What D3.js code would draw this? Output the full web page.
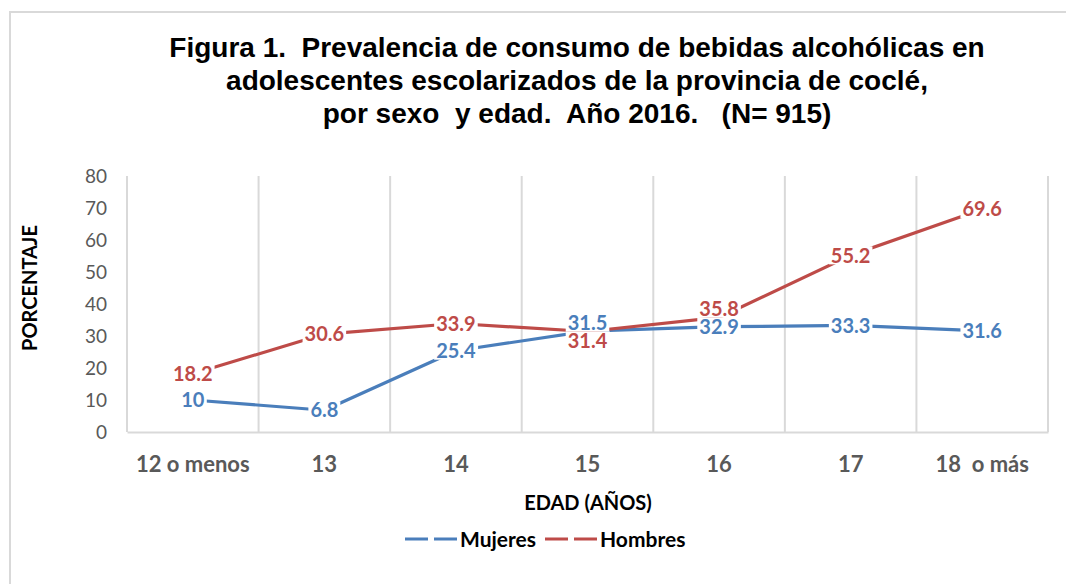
<!DOCTYPE html>
<html><head><meta charset="utf-8">
<script src="https://cdn.jsdelivr.net/npm/d3@7"></script>
<style>html,body{margin:0;padding:0;background:#fff;}svg{display:block;}</style>
</head><body>
<svg id="c" width="1066" height="584"></svg>
<script>
const categories = ["12 o menos","13","14","15","16","17","18  o más"];
const mujeres = [10, 6.8, 25.4, 31.5, 32.9, 33.3, 31.6];
const hombres = [18.2, 30.6, 33.9, 31.4, 35.8, 55.2, 69.6];
const yTicks = [0,10,20,30,40,50,60,70,80];
const titleLines = ["Figura 1.  Prevalencia de consumo de bebidas alcohólicas en","adolescentes escolarizados de la provincia de coclé,","por sexo  y edad.  Año 2016.   (N= 915)"];
const seriesNames = ["Mujeres","Hombres"];
const colors = ["#4A7EBB","#BE4B48"];

const svg = d3.select("#c");
const W = 1066, H = 584;
const sans = "Lato, 'Open Sans', sans-serif";
svg.append("rect").attr("width",W).attr("height",H).attr("fill","#fff");
svg.append("rect").attr("x",10).attr("y",12).attr("width",1100).attr("height",700)
  .attr("fill","none").attr("stroke","#d9d9d9").attr("stroke-width",2);

const title = svg.append("text").attr("text-anchor","middle")
  .attr("font-family","'Liberation Sans', Arial, sans-serif").attr("font-weight","bold")
  .attr("font-size",28).attr("fill","#000").style("white-space","pre");
titleLines.forEach((t,i)=>title.append("tspan").attr("x",577).attr("y",57+i*33).text(t));

const x = d3.scaleBand().domain(categories).range([127,1048]).padding(0);
const y = d3.scaleLinear().domain([0,80]).range([432,176]);

// vertical gridlines at category boundaries
const bounds = categories.map(c=>x(c)).concat([x.range()[1]]);
svg.append("g").selectAll("line").data(bounds).join("line")
  .attr("x1",d=>d).attr("x2",d=>d).attr("y1",y(80)).attr("y2",y(0))
  .attr("stroke","#d9d9d9").attr("stroke-width",2);

// x axis
const xAxis = svg.append("g").attr("transform",`translate(0,${y(0)})`)
  .call(d3.axisBottom(x).tickSize(0).tickPadding(24));
xAxis.select(".domain").attr("stroke","#d9d9d9").attr("stroke-width",2);
xAxis.selectAll("text").attr("font-family",sans).attr("font-size",22).attr("font-weight","bold")
  .attr("fill","#595959").style("white-space","pre");

// y axis
const yAxis = svg.append("g").attr("transform",`translate(${x.range()[0]},0)`)
  .call(d3.axisLeft(y).tickValues(yTicks).tickSize(0).tickPadding(20));
yAxis.select(".domain").remove();
yAxis.selectAll("text").attr("font-family",sans).attr("font-size",19).attr("fill","#595959");

// axis titles
svg.append("text").attr("transform","translate(37,288) rotate(-90)").attr("text-anchor","middle")
  .attr("font-family",sans).attr("font-weight","bold").attr("font-size",20).attr("fill","#000").text("PORCENTAJE");
svg.append("text").attr("x",588).attr("y",510).attr("text-anchor","middle")
  .attr("font-family",sans).attr("font-weight","bold").attr("font-size",20).attr("fill","#000").text("EDAD (AÑOS)");

const series = [mujeres, hombres];
const line = d3.line().x((d,i)=>x(categories[i])+x.bandwidth()/2).y(d=>y(d));
series.forEach((s,k)=>{
  svg.append("path").datum(s).attr("d",line).attr("fill","none")
    .attr("stroke",colors[k]).attr("stroke-width",3.2).attr("stroke-linejoin","round");
});

// label positions with collision avoidance
const S = 18;
const labelY = series.map(s=>s.map(v=>y(v)));
categories.forEach((c,i)=>{
  const a = labelY[0][i], b = labelY[1][i];
  const d = Math.abs(a-b);
  if (d < S) {
    const upIdx = a < b ? 0 : 1, lowIdx = 1-upIdx;
    const shift = S - d;
    if (d < S/2) { labelY[upIdx][i] -= shift/2; labelY[lowIdx][i] += shift/2; }
    else { labelY[upIdx][i] -= shift; }
  }
});
series.forEach((s,k)=>{
  const g = svg.append("g");
  s.forEach((v,i)=>{
    const cx = x(categories[i])+x.bandwidth()/2;
    const lg = g.append("g");
    const t = lg.append("text").attr("x",cx).attr("y",labelY[k][i]).attr("dy","0.36em")
      .attr("text-anchor","middle").attr("font-family",sans).attr("font-weight","bold")
      .attr("font-size",20).attr("fill",colors[k]).text(String(v));
    const bb = t.node().getBBox();
    lg.insert("rect","text").attr("x",bb.x-2).attr("y",labelY[k][i]-9).attr("width",bb.width+4)
      .attr("height",18).attr("fill","#fff");
  });
});

// legend
const legX = [405, 545];
seriesNames.forEach((n,k)=>{
  svg.append("line").attr("x1",legX[k]).attr("x2",legX[k]+52).attr("y1",539).attr("y2",539)
    .attr("stroke",colors[k]).attr("stroke-width",3.2).attr("stroke-dasharray","23 6");
  svg.append("text").attr("x",legX[k]+55).attr("y",539).attr("dy","0.36em")
    .attr("font-family",sans).attr("font-weight","bold").attr("font-size",21).attr("fill","#000").text(n);
});
</script>
</body></html>
